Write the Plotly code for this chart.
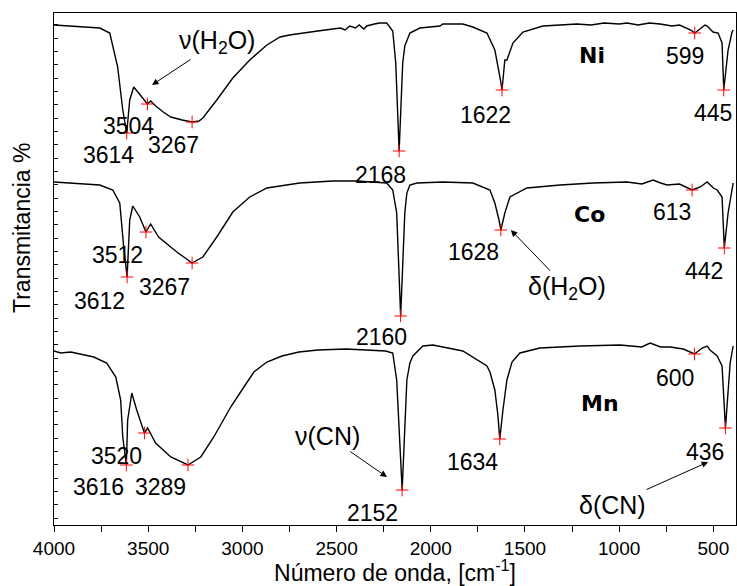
import plotly.graph_objects as go

# ---------------- data (wavenumber cm^-1, transmittance a.u.) ----------------
ni_wn = [4000, 3900, 3800, 3757, 3704, 3662, 3635, 3614, 3598, 3577, 3555, 3530, 3504, 3487,
         3460, 3420, 3380, 3320, 3267, 3230, 3210, 3136, 3051, 2961, 2870, 2800, 2750, 2600,
         2520, 2480, 2455, 2430, 2400, 2380, 2355, 2340, 2300, 2271, 2234, 2218, 2202, 2186,
         2168, 2149, 2138, 2111, 2058, 1951, 1936, 1830, 1777, 1702, 1660, 1633, 1622, 1607,
         1596, 1564, 1511, 1405, 1300, 1224, 1150, 1080, 1000, 958, 900, 840, 783, 720, 680,
         639, 620, 599, 570, 545, 533, 515, 502, 475, 454, 445, 422, 401, 395]
ni_t = [500, 499, 498, 497, 492, 458, 415, 392, 425, 438, 433, 427, 421, 424,
        419, 413, 408, 405, 403, 404, 407, 425, 447, 465, 480, 488, 490, 494,
        496, 497, 495, 499, 497, 500, 496, 499, 501, 502, 502, 498, 494, 462,
        374, 462, 479, 492, 497, 499, 501, 501, 498, 492, 475, 448, 435, 465,
        465, 482, 493, 499, 500, 501, 500, 502, 501, 502, 500, 502, 501, 499, 500,
        497, 495, 492, 496, 500, 499, 495, 493, 492, 482, 435, 475, 493, 495]

co_wn = [4000, 3757, 3688, 3651, 3630, 3612, 3598, 3582, 3545, 3512, 3487, 3445, 3348, 3267,
         3210, 3136, 3051, 2961, 2870, 2696, 2521, 2393, 2234, 2202, 2181, 2160, 2138, 2127,
         2111, 2074, 1936, 1777, 1686, 1660, 1638, 1628, 1607, 1580, 1490, 1314, 1139, 958,
         880, 820, 780, 746, 680, 613, 570, 533, 500, 480, 454, 442, 422, 395]
co_t = [343, 340, 335, 322, 278, 248, 305, 319, 308, 293, 301, 288, 273, 262,
        268, 288, 313, 328, 337, 342, 344, 344, 342, 335, 312, 209, 312, 332,
        340, 342, 343, 342, 335, 322, 305, 295, 312, 328, 337, 340, 342, 343,
        341, 345, 342, 340, 341, 335, 338, 343, 337, 335, 328, 277, 312, 342]

mn_wn = [4000, 3964, 3911, 3789, 3720, 3672, 3646, 3635, 3616, 3609, 3587, 3561, 3520, 3503,
         3461, 3380, 3289, 3221, 3152, 3062, 2992, 2939, 2870, 2790, 2700, 2600, 2450, 2300,
         2240, 2202, 2181, 2152, 2127, 2111, 2095, 2042, 1989, 1830, 1702, 1686, 1660, 1644,
         1634, 1617, 1596, 1569, 1527, 1421, 1208, 996, 880, 836, 780, 730, 660, 600, 560, 533,
         518, 480, 454, 436, 411, 395]
mn_t = [174, 172, 173, 168, 162, 148, 125, 88, 60, 105, 132, 115, 92, 97,
        82, 68, 60, 68, 88, 118, 138, 153, 163, 169, 173, 175, 176, 175,
        174, 172, 145, 35, 145, 162, 169, 179, 180, 174, 159, 153, 135, 110,
        86, 115, 145, 163, 172, 177, 179, 180, 178, 182, 178, 178, 176, 171, 177, 179,
        175, 169, 159, 97, 162, 179]

# peak markers
ni_pk_wn = [3614, 3504, 3267, 2168, 1622, 599, 445]
ni_pk_t = [392, 421, 403, 374, 435, 492, 435]
co_pk_wn = [3612, 3512, 3267, 2160, 1628, 613, 442]
co_pk_t = [248, 293, 262, 209, 295, 335, 277]
mn_pk_wn = [3616, 3520, 3289, 2152, 1634, 600, 436]
mn_pk_t = [60, 92, 60, 35, 86, 171, 97]

# peak labels: text, x, y
lab_text = ["3614", "3504", "3267", "2168", "1622", "599", "445",
            "3612", "3512", "3267", "2160", "1628", "613", "442",
            "3616", "3520", "3289", "2152", "1634", "600", "436"]
lab_x = [3709, 3603, 3364, 2265, 1712, 650, 502,
         3757, 3661, 3412, 2260, 1771, 720, 550,
         3762, 3667, 3433, 2307, 1777, 704, 545]
lab_y = [370, 399, 380, 350, 410, 469, 412,
         224, 270, 238, 188, 273, 313, 254,
         38, 69, 38, 12, 63, 147, 73]

sample_names = ["Ni", "Co", "Mn"]
sample_x = [1144, 1155, 1102]
sample_y = [470, 311, 122]

# band assignments with arrows (text position, arrow head position)
band_text = ["ν(H<sub>2</sub>O)", "δ(H<sub>2</sub>O)", "ν(CN)", "δ(CN)"]
band_x = [3135, 1278, 2546, 1038]
band_y = [483, 237, 89, 20]
arrow_head_x = [3480, 1575, 2233, 528]
arrow_head_y = [440, 295, 48, 63]

FONT = "Liberation Sans, Arial, sans-serif"

fig = go.Figure()
for wn, t in [(ni_wn, ni_t), (co_wn, co_t), (mn_wn, mn_t)]:
    fig.add_trace(go.Scatter(x=wn, y=t, mode="lines",
                             line=dict(color="black", width=1.4), showlegend=False,
                             hoverinfo="skip"))
for wn, t in [(ni_pk_wn, ni_pk_t), (co_pk_wn, co_pk_t), (mn_pk_wn, mn_pk_t)]:
    fig.add_trace(go.Scatter(x=wn, y=t, mode="markers",
                             marker=dict(symbol="cross-thin", size=9,
                                         line=dict(color="red", width=1)),
                             showlegend=False))

ann = []
for txt, x, y in zip(lab_text, lab_x, lab_y):
    ann.append(dict(text=txt, x=x, y=y, xref="x", yref="y", showarrow=False,
                    font=dict(family=FONT, size=23, color="black")))
for txt, x, y in zip(sample_names, sample_x, sample_y):
    ann.append(dict(text="<b>" + txt + "</b>", x=x, y=y, xref="x", yref="y", showarrow=False,
                    font=dict(family="DejaVu Sans, sans-serif", size=22, color="black")))
for txt, tx, ty, hx, hy in zip(band_text, band_x, band_y, arrow_head_x, arrow_head_y):
    ann.append(dict(text=txt, x=hx, y=hy, ax=tx, ay=ty, xref="x", yref="y",
                    axref="x", ayref="y", showarrow=True, arrowhead=2,
                    arrowsize=1.3, arrowwidth=1, arrowcolor="black",
                    font=dict(family=FONT, size=25, color="black")))
ann.append(dict(text="Transmitancia %", x=(22 - 54) / (737 - 55),
                y=(586 - 61 - 228) / (586 - 74), xref="paper", yref="paper",
                xanchor="center", yanchor="middle",
                showarrow=False, textangle=-90,
                font=dict(family=FONT, size=23, color="black")))

fig.update_layout(
    width=737, height=586,
    margin=dict(l=54, r=1, t=13, b=61),
    plot_bgcolor="white", paper_bgcolor="white",
    font=dict(family=FONT, color="black"),
    annotations=ann,
)

fig.update_xaxes(
    range=[4000, 380], showgrid=False, zeroline=False,
    showline=True, linecolor="black", linewidth=1.3, mirror=True,
    ticks="outside", ticklen=6, tickwidth=1.2, tickcolor="black",
    tick0=0, dtick=500,
    minor=dict(ticks="outside", ticklen=6, tickwidth=1.2, tickcolor="black", dtick=250, showgrid=False),
    tickfont=dict(family=FONT, size=19, color="black"),
    title=dict(text="Número de onda, [cm<sup>-1</sup>]",
               font=dict(family=FONT, size=23, color="black"), standoff=4),
)
fig.update_yaxes(
    range=[0, 512], showgrid=False, zeroline=False,
    showline=True, linecolor="black", linewidth=1.3, mirror=True,
    ticks="inside", ticklen=4, tickwidth=1, tickcolor="black",
    tick0=7, dtick=13.33, showticklabels=False,
)

fig.write_html("out.html")
